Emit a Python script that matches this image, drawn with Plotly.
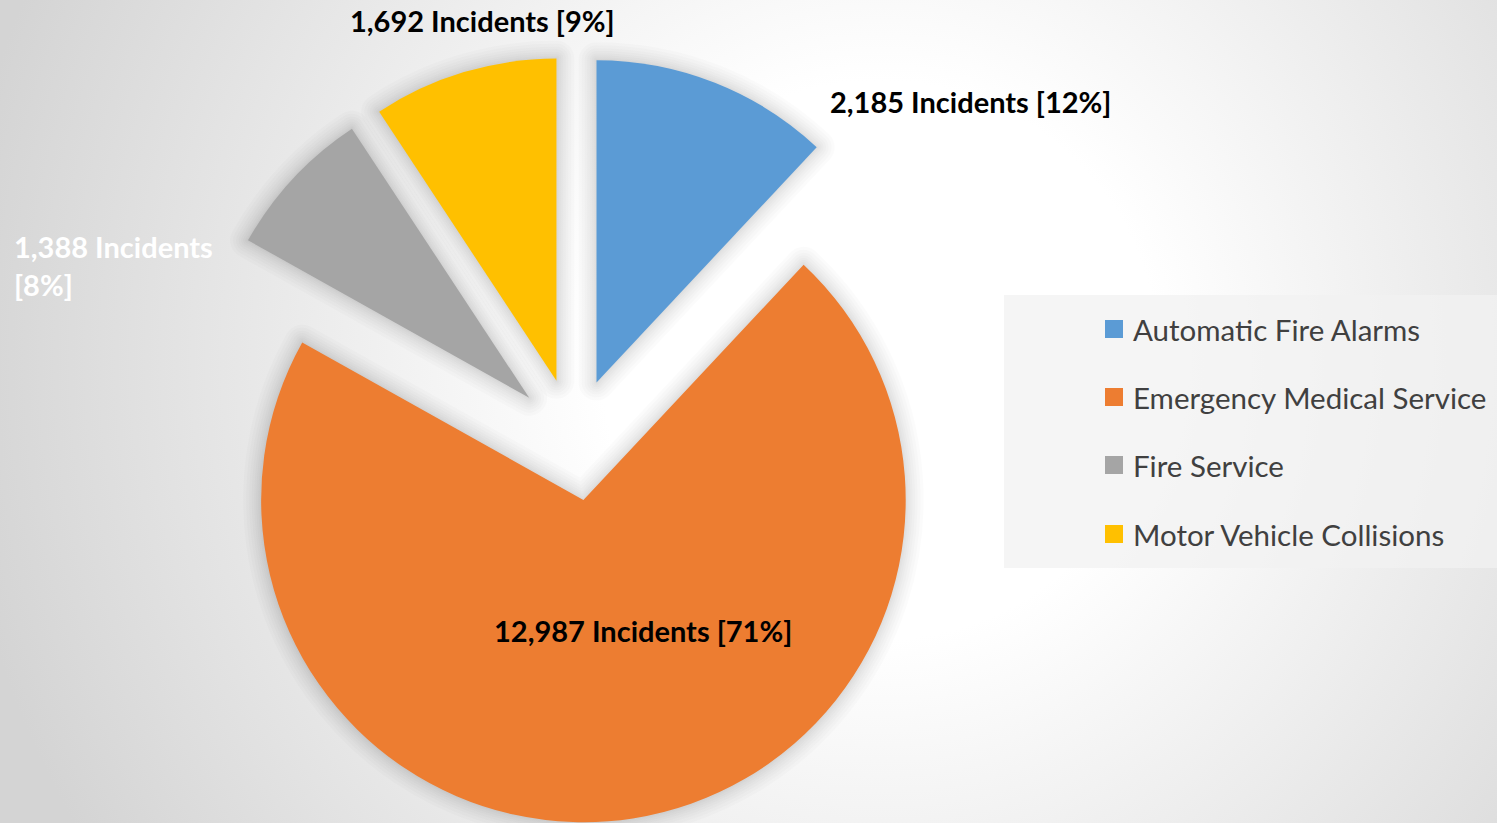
import base64
import plotly.graph_objects as go

# ---- data ----
categories = ["Automatic Fire Alarms", "Emergency Medical Service", "Fire Service", "Motor Vehicle Collisions"]
incidents = [2185, 12987, 1388, 1692]
colors = ["#5B9BD5", "#ED7D31", "#A5A5A5", "#FFC000"]

total = sum(incidents)
label_texts = [f"{v:,} Incidents [{round(100 * v / total)}%]" for v in incidents]

W, H = 1497, 823
PULL = [0.19, 0.19, 0.19, 0.19]
DOMAIN = dict(x=[0.1256, 0.6413], y=[0.0, 0.932])

# ---- background radial gradient (as an SVG image) ----
svg = f'''<svg xmlns="http://www.w3.org/2000/svg" width="{W}" height="{H}" viewBox="0 0 {W} {H}">
<defs><radialGradient id="g" gradientUnits="userSpaceOnUse" cx="880" cy="360" r="930">
<stop offset="0" stop-color="#ffffff"/><stop offset="0.3" stop-color="#ffffff"/>
<stop offset="1" stop-color="#d4d4d4"/></radialGradient></defs>
<rect width="{W}" height="{H}" fill="url(#g)"/></svg>'''
bg_src = "data:image/svg+xml;base64," + base64.b64encode(svg.encode()).decode()

fig = go.Figure()

# soft shadow halo: same pie drawn behind with translucent outlines
for lw in [36, 30, 24, 19, 14, 10, 6, 3]:
    fig.add_trace(go.Pie(
        labels=categories, values=incidents, sort=False, direction="clockwise", rotation=0,
        pull=PULL, domain=DOMAIN, textinfo="none", hoverinfo="skip", showlegend=False,
        marker=dict(colors=["rgba(0,0,0,0)"] * 4, line=dict(width=lw, color="rgba(0,0,0,0.014)")),
    ))

fig.add_trace(go.Pie(
    labels=categories,
    values=incidents,
    marker=dict(colors=colors, line=dict(width=0)),
    sort=False,
    direction="clockwise",
    rotation=0,
    pull=PULL,
    textinfo="none",
    hoverinfo="label+value+percent",
    domain=DOMAIN,
    showlegend=False,
))

FONT = "Lato, 'Open Sans', sans-serif"
label_font = dict(family=FONT, size=29, color="#000000")
ann = []
ann.append(dict(x=828 / W, y=1 - 102 / H, xanchor="left", yanchor="middle",
                text=f"<b>{label_texts[0]}</b>", font=label_font))
ann.append(dict(x=643 / W, y=1 - 630 / H, xanchor="center", yanchor="middle",
                text=f"<b>{label_texts[1]}</b>", font=label_font))
t2 = label_texts[2].split(" [")
ann.append(dict(x=12 / W, y=1 - 265 / H, xanchor="left", yanchor="middle", align="left",
                text=f"<b>{t2[0]}<br>[{t2[1]}</b>",
                font=dict(family=FONT, size=29, color="#ffffff")))
ann.append(dict(x=482 / W, y=1 - 21 / H, xanchor="center", yanchor="middle",
                text=f"<b>{label_texts[3]}</b>", font=label_font))

# legend
shapes = [dict(type="rect", xref="paper", yref="paper",
               x0=1004 / W, x1=1.0, y0=1 - 568 / H, y1=1 - 295 / H,
               fillcolor="rgba(242,242,242,0.75)", line=dict(width=0), layer="below")]
legend_y = [329, 397, 465, 534]
for cat, col, ly in zip(categories, colors, legend_y):
    shapes.append(dict(type="rect", xref="paper", yref="paper",
                       x0=1105 / W, x1=1123 / W, y0=1 - (ly + 9) / H, y1=1 - (ly - 9) / H,
                       fillcolor=col, line=dict(width=0)))
    ann.append(dict(x=1131 / W, y=1 - ly / H, xanchor="left", yanchor="middle",
                    text=cat, font=dict(family=FONT, size=29.5, color="#404040")))

for a in ann:
    a.update(xref="paper", yref="paper", showarrow=False)

fig.update_layout(
    width=W, height=H,
    margin=dict(l=0, r=0, t=0, b=0),
    paper_bgcolor="#e6e6e6",
    plot_bgcolor="rgba(0,0,0,0)",
    annotations=ann,
    shapes=shapes,
    images=[dict(source=bg_src, xref="paper", yref="paper", x=0, y=1, sizex=1, sizey=1,
                 xanchor="left", yanchor="top", sizing="stretch", layer="below")],
)

fig.write_html("out.html", config={"displayModeBar": False},
               post_script="document.body.style.margin='0';document.body.style.overflow='hidden';")
